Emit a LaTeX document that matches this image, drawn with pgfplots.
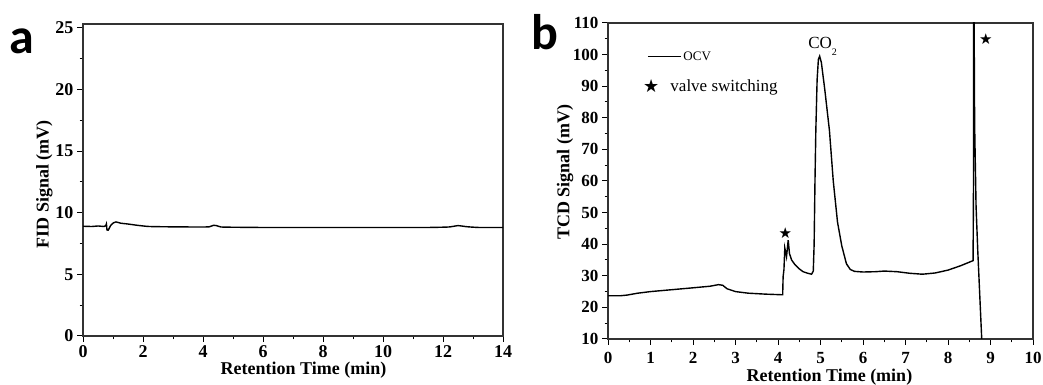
\documentclass[border=0pt]{standalone}
\usepackage{fontspec}
\setmainfont{Liberation Serif}
\newfontfamily\carlito{Carlito}
\newfontfamily\dejavu{DejaVu Sans}
\usepackage{pgfplots}
\pgfplotsset{compat=1.18}

\pgfplotsset{
  chartstyle/.style={
    scale only axis,
    anchor=south west,
    tick align=outside,
    xtick pos=bottom, ytick pos=left,
    major tick length=6pt, minor tick length=3.5pt,
    every tick/.style={black, line width=1pt},
    axis line style={line width=1.2pt, black!80},
    /pgf/number format/assume math mode=true,
    ticklabel style={font=\bfseries\fontsize{18}{18}\selectfont},
    label style={font=\bfseries\fontsize{18}{18}\selectfont},
    clip=true,
  }
}

\begin{document}
\begin{tikzpicture}[x=1pt,y=1pt]
\path[use as bounding box] (0,0) rectangle (1043,385);

% panel letters
\node[font=\carlito\bfseries\fontsize{50}{50}\selectfont, anchor=base] at (22,331) {a};
\node[font=\carlito\bfseries\fontsize{50}{50}\selectfont, anchor=base] at (545,335) {b};

% ---------------- panel a ----------------
\begin{axis}[chartstyle,
  at={(83pt,49pt)}, width=420pt, height=312pt,
  xmin=0, xmax=14, ymin=0, ymax=25.3,
  xtick={0,2,...,14}, minor xtick={1,3,...,13},
  ytick={0,5,...,25}, minor ytick={2.5,7.5,...,22.5},
  xlabel={Retention Time (min)},
  ylabel={FID Signal (mV)},
  xlabel style={at={(axis description cs:0.525,-0.108)}, anchor=center},
  ylabel style={at={(axis description cs:-0.092,0.487)}, anchor=center},
]
\addplot[black, line width=1.4pt, smooth, tension=0.3] coordinates {
 (0,8.9) (0.3,8.88) (0.5,8.92) (0.7,8.88) (0.76,8.95) (0.78,9.1) (0.8,8.6) (0.84,8.58)
 (0.92,8.95) (1.0,9.15) (1.1,9.25) (1.25,9.15) (1.5,9.08) (1.8,8.98) (2.2,8.88)
 (3,8.85) (3.8,8.84) (4.2,8.85) (4.35,8.98) (4.45,8.95) (4.6,8.84) (5,8.82)
 (6,8.8) (8,8.8) (10,8.8) (11.5,8.8) (12.2,8.84) (12.5,8.95) (12.8,8.86) (13.2,8.8) (14,8.8)
};
\end{axis}

% ---------------- panel b ----------------
\begin{axis}[chartstyle,
  at={(608pt,46pt)}, width=425pt, height=316pt,
  xmin=0, xmax=10, ymin=10, ymax=110,
  xtick={0,1,...,10}, minor xtick={0.5,1.5,...,9.5},
  ytick={10,20,...,110}, minor ytick={15,25,...,105},
  ticklabel style={font=\bfseries\fontsize{17}{17}\selectfont},
  xticklabel style={yshift=-4pt},
  xlabel={Retention Time (min)},
  ylabel={TCD Signal (mV)},
  xlabel style={at={(axis description cs:0.521,-0.121)}, anchor=center},
  ylabel style={at={(axis description cs:-0.101,0.528)}, anchor=center},
  legend style={at={(0.082,0.916)}, anchor=north west, draw=none, fill=none,
    inner sep=0pt, row sep=14pt, cells={anchor=west}},
]
\addplot[black, line width=1.4pt,
  legend image code/.code={\draw[black, line width=1.2pt] (0pt,0pt) -- (33pt,0pt);}]
 coordinates {
 (0,23.7) (0.3,23.7) (0.45,23.9) (0.7,24.5) (1.0,25.0) (1.5,25.6) (2.0,26.2)
 (2.4,26.7) (2.6,27.2) (2.7,27.0) (2.8,25.9) (3.0,25.0) (3.3,24.5) (3.7,24.2) (4.1,24.0)
 (4.11,24.0) (4.12,29.7) (4.14,32) (4.16,38.8) (4.2,36.0) (4.24,41.3) (4.27,37) (4.32,35.0)
 (4.4,33.5) (4.5,32.2) (4.59,31.3) (4.7,30.8) (4.79,30.5) (4.83,31.5) (4.85,40) (4.87,60)
 (4.89,76) (4.92,92) (4.95,98.5) (4.98,99.5) (5.02,97.5) (5.1,89) (5.21,76) (5.30,60)
 (5.4,47) (5.5,39.5) (5.61,33.8) (5.7,32.0) (5.8,31.4) (6.0,31.2) (6.3,31.3) (6.5,31.5)
 (6.8,31.3) (7.1,30.8) (7.4,30.5) (7.7,30.9) (8.0,31.8) (8.3,33.2) (8.59,34.8)
 (8.6,60) (8.605,120) (8.615,120) (8.62,90) (8.63,75) (8.66,52) (8.7,38) (8.75,23) (8.8,8)
};
\addlegendentry{\fontsize{13}{13}\selectfont OCV}
\addplot[only marks, mark=text, text mark={\dejavu\fontsize{15}{15}\selectfont ★},
  legend image code/.code={\path[draw=none] (0pt,0pt) -- (33pt,0pt);
    \node[font=\dejavu\fontsize{18}{18}\selectfont, inner sep=0pt] at (-5pt,0pt) {★};}]
 coordinates {(4.17,43.6) (8.89,104.8)};
\addlegendentry{\fontsize{17}{17}\selectfont\hspace{-13pt}valve switching}
\node[font=\fontsize{17}{17}\selectfont, anchor=base] at (axis cs:5.05,101.8)
  {CO\raisebox{-0.4em}{\fontsize{10}{10}\selectfont 2}};
\end{axis}
\end{tikzpicture}
\end{document}
